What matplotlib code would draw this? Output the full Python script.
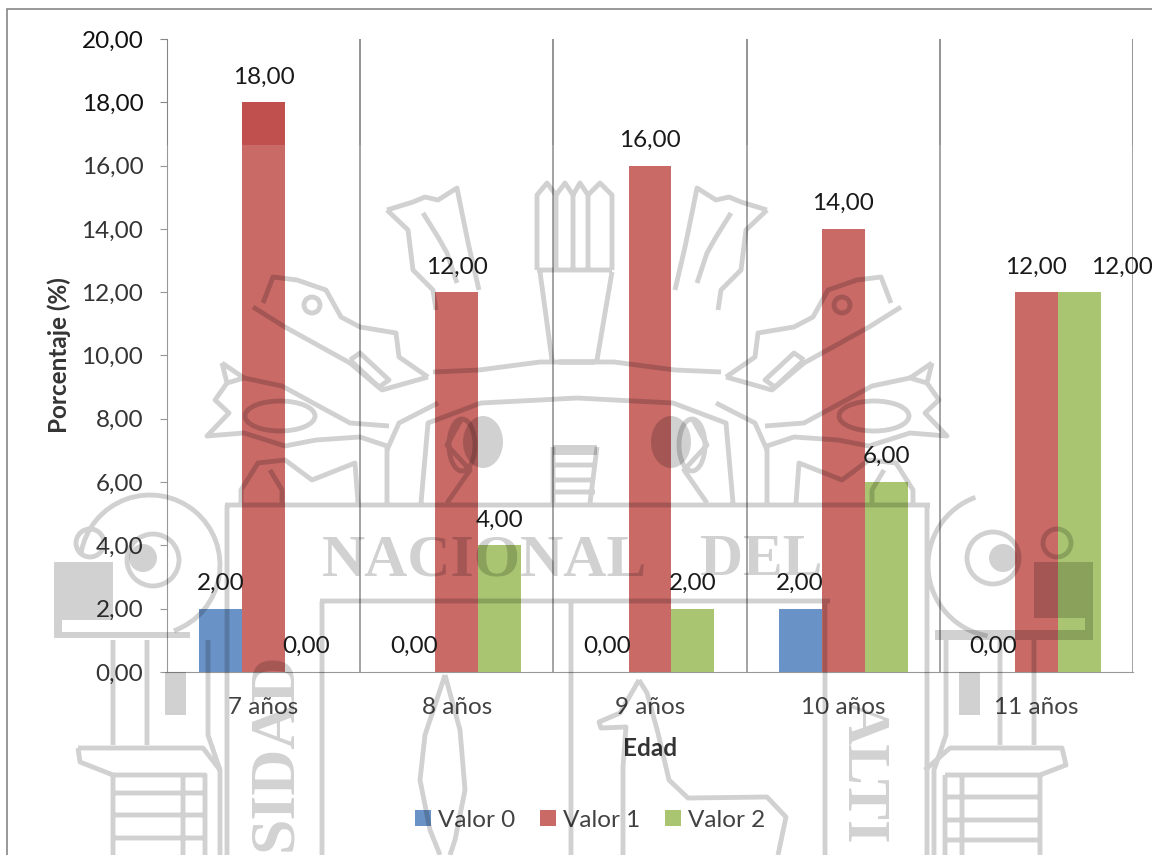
import matplotlib
matplotlib.use("Agg")
import matplotlib.pyplot as plt
import numpy as np
from matplotlib.patches import Rectangle, PathPatch
from matplotlib.path import Path
from matplotlib.transforms import Affine2D

categories = ["7 años", "8 años", "9 años", "10 años", "11 años"]
valor0 = [2, 0, 0, 2, 0]
valor1 = [18, 12, 16, 14, 12]
valor2 = [0, 4, 2, 6, 12]
series_names = ["Valor 0", "Valor 1", "Valor 2"]
colors = ["#4F81BD", "#C0504D", "#9BBB59"]
y_ticks = list(range(0, 21, 2))

W, H = 1152, 855
plt.rcParams["font.family"] = ["Lato", "DejaVu Sans"]
fig = plt.figure(figsize=(W / 100, H / 100), dpi=100, facecolor="white")
px = Affine2D().scale(1, -1).translate(0, H)  # background art is laid out in picture pixels

fig.add_artist(Rectangle((7 / W, -0.01), 1.1, 1 - 9 / H + 0.01, transform=fig.transFigure,
                         fill=False, edgecolor="#868686", linewidth=1.2))

ax = fig.add_axes([167 / W, 1 - 672 / H, (1133 - 167) / W, (672 - 39) / H])
ax.set_facecolor("none")
x = np.arange(len(categories))
bw = 0.2225
FS = 17.5
for i, (vals, c, name) in enumerate(zip([valor0, valor1, valor2], colors, series_names)):
    pos = x + (i - 1) * bw
    ax.bar(pos, vals, bw, color=c, label=name, zorder=3)
    for j, (p, v) in enumerate(zip(pos, vals)):
        dx = 31 if (i == 2 and j == 4) else 0
        ax.annotate(f"{v:.2f}".replace(".", ","), (p, v), xytext=(dx, 18.2), textcoords="offset points",
                    ha="center", va="center", fontsize=FS, color="#1a1a1a", zorder=6,
                    annotation_clip=False)

ax.set_xlim(-0.5, len(categories) - 0.5)
ax.set_ylim(0, 20)
ax.set_yticks(y_ticks)
ax.set_yticklabels([f"{t:.2f}".replace(".", ",") for t in y_ticks], fontsize=FS, color="#111111")
ax.set_xticks(x)
ax.set_xticklabels(categories, fontsize=FS, color="#222222")
ax.set_xticks(np.arange(len(categories)) + 0.5, minor=True)
ax.tick_params(axis="x", which="major", length=0, pad=18)
ax.tick_params(axis="x", which="minor", length=0)
ax.tick_params(axis="y", length=5, color="#868686", pad=12)
ax.grid(axis="x", which="minor", color="#777777", linewidth=1.1, zorder=1)
for s in ["top", "right"]:
    ax.spines[s].set_visible(False)
for s in ["left", "bottom"]:
    ax.spines[s].set_color("#868686")
ax.set_xlabel("Edad", fontsize=FS, fontweight="bold", color="#111111")
ax.xaxis.set_label_coords(0.5, -0.103)
ax.set_ylabel("Porcentaje (%)", fontsize=FS, fontweight="bold", color="#111111")
ax.yaxis.set_label_coords(-0.0995, 0.5)
leg = ax.legend(loc="center", bbox_to_anchor=(0.438, -0.234), ncol=3, frameon=False, fontsize=FS,
                handlelength=0.66, handleheight=0.66, handletextpad=0.28, columnspacing=1.02,
                labelcolor="#222222", borderpad=0, borderaxespad=0)
leg.set_zorder(3.2)

# ---- background watermark (university crest), in picture pixels ----
ink = dict(color="black", alpha=0.18)
MIRROR = 1154
left_strokes = [
    # plume
    [(387, 210), (413, 202), (425, 197), (438, 200), (457, 188), (462, 213), (469, 247), (479, 290)],
    [(387, 210), (408, 230), (413, 270), (433, 290), (436, 310)],
    [(423, 213), (438, 237), (447, 253), (457, 283)],
    # upper serpent
    [(263, 303), (273, 277), (297, 280), (326, 290), (341, 317), (360, 327), (396, 333), (399, 357), (428, 377)],
    [(253, 307), (285, 327), (350, 363), (382, 390), (428, 377)],
    [(350, 360), (360, 353), (389, 380), (379, 387), (350, 360)],
    # lower serpent
    [(222, 363), (227, 383), (215, 400), (229, 413), (207, 436), (244, 433), (285, 446), (316, 440), (360, 437), (387, 446), (387, 503)],
    [(227, 383), (244, 378), (282, 386), (326, 410), (350, 423), (389, 426)],
    [(222, 363), (244, 378)],
    [(241, 503), (241, 490), (258, 463), (285, 460), (312, 480), (355, 463), (358, 503)],
    [(282, 503), (282, 490), (270, 470)],
    # arches
    [(433, 372), (479, 370), (540, 362), (595, 362)],
    [(438, 403), (399, 423), (387, 450)],
    [(421, 503), (428, 423), (481, 403), (540, 400), (577, 398)],
    [(447, 503), (470, 470), (447, 445), (462, 418)],
    # columns below the band
    [(227, 505), (227, 855)],
    [(208, 640), (208, 735), (220, 770), (220, 855)],
]
centre_strokes = [
    [(537, 270), (537, 195), (547, 183), (556, 195), (556, 270)],
    [(556, 195), (565, 183), (573, 195), (573, 270)],
    [(573, 195), (580, 183), (588, 195), (588, 270)],
    [(588, 195), (600, 183), (612, 195), (612, 270)],
    [(537, 270), (612, 270)],
    [(540, 272), (552, 360)], [(612, 272), (597, 360)],
    [(225, 505), (930, 505)],
    [(320, 601), (830, 601)],
    [(322, 601), (322, 855)], [(571, 601), (571, 855)], [(825, 601), (825, 855)],
    [(553, 447), (553, 503)], [(597, 447), (590, 503)],
    [(553, 465), (595, 465)], [(553, 480), (595, 480)], [(553, 492), (595, 492)],
    # left crest foot
    [(113, 640), (113, 745)], [(147, 640), (147, 745)],
    [(78, 748), (203, 748), (220, 770)], [(78, 748), (80, 762), (113, 775)],
    [(113, 775), (205, 775), (205, 855)], [(113, 775), (113, 855)], [(183, 775), (183, 855)],
    [(113, 793), (205, 793)], [(113, 815), (205, 815)], [(113, 838), (205, 838)],
    # right crest foot
    [(1000, 640), (1000, 745)], [(1034, 640), (1034, 745)],
    [(925, 770), (950, 748), (1062, 748), (1066, 765), (1040, 775), (945, 775)],
    [(945, 775), (945, 855)], [(962, 775), (962, 855)], [(1040, 775), (1040, 855)],
    [(945, 797), (1040, 797)], [(945, 820), (1040, 820)], [(945, 840), (1040, 840)],
    # leaf
    [(445, 675), (425, 735), (420, 780), (430, 830), (440, 855)],
    [(445, 675), (460, 730), (465, 790), (455, 840), (450, 855)],
    # llama
    [(639, 680), (620, 713), (599, 722), (601, 728), (626, 727), (623, 767), (623, 855)],
    [(639, 680), (647, 693), (658, 733), (669, 780), (688, 798), (767, 797), (786, 817), (778, 855)],
]
segments = []
for line in left_strokes:
    segments.append(Path(line))
    segments.append(Path([(MIRROR - a, b) for a, b in line]))
for line in centre_strokes:
    segments.append(Path(line))


def oval(cx, cy, rx, ry):
    return Path.unit_circle().transformed(Affine2D().scale(rx, ry).translate(cx, cy))


def arc(cx, cy, r, t1, t2):
    return Path.arc(t1, t2).transformed(Affine2D().scale(r).translate(cx, cy))


segments += [
    oval(153, 560, 26, 26), oval(993, 558, 26, 26), oval(90, 543, 14, 14), oval(1057, 543, 14, 14),
    arc(150, 565, 70, 190, 70), arc(1000, 565, 72, 100, 250),
    oval(312, 305, 8, 8), oval(842, 305, 8, 8), oval(280, 416, 35, 15), oval(874, 416, 35, 15),
    oval(462, 445, 13, 26), oval(692, 445, 13, 26),
]
ax.add_patch(PathPatch(Path.make_compound_path(*segments), fill=False, lw=3.5, ec="black", alpha=0.18,
                       transform=px, clip_on=False, zorder=4, joinstyle="round"))
solids = [
    oval(143, 558, 14, 14), oval(1003, 558, 14, 14), oval(483, 442, 20, 26), oval(671, 442, 20, 26),
    Path([(54, 562), (113, 562), (113, 620), (54, 620), (54, 562)]),
    Path([(54, 620), (62, 620), (62, 632), (54, 632), (54, 620)]),
    Path([(54, 632), (190, 632), (190, 638), (54, 638), (54, 632)]),
    Path([(1034, 562), (1093, 562), (1093, 618), (1034, 618), (1034, 562)]),
    Path([(1085, 618), (1093, 618), (1093, 630), (1085, 630), (1085, 618)]),
    Path([(935, 630), (1093, 630), (1093, 640), (935, 640), (935, 630)]),
    Path([(165, 672), (186, 672), (186, 715), (165, 715), (165, 672)]),
    Path([(959, 672), (980, 672), (980, 715), (959, 715), (959, 672)]),
    Path([(553, 445), (597, 445), (597, 455), (553, 455), (553, 445)]),
]
for shape in solids:
    ax.add_patch(PathPatch(shape, fc="black", ec="none", alpha=0.18, transform=px, clip_on=False, zorder=4))

for label, a, b, rot, size, ha, va in [
    ("NACIONAL", 322, 575, 0, 43, "left", "baseline"),
    ("DEL", 700, 575, 0, 43, "left", "baseline"),
    ("SIDAD", 276, 752, 90, 46, "center", "center"),
    ("ALTI", 862, 772, -90, 44, "center", "center"),
]:
    ax.text(a / W, 1 - b / H, label, transform=fig.transFigure, rotation=rot, fontsize=size,
            family="Liberation Serif", fontweight="bold", ha=ha, va=va, clip_on=False, zorder=4, **ink)

# pale veil of the watermark image, which starts just below the top of the first bar
ax.add_patch(Rectangle((0, 145), W, H - 145, fc="white", ec="none", alpha=0.15, transform=px,
                       clip_on=False, zorder=3.5))
fig.savefig("out.png", dpi=100)
